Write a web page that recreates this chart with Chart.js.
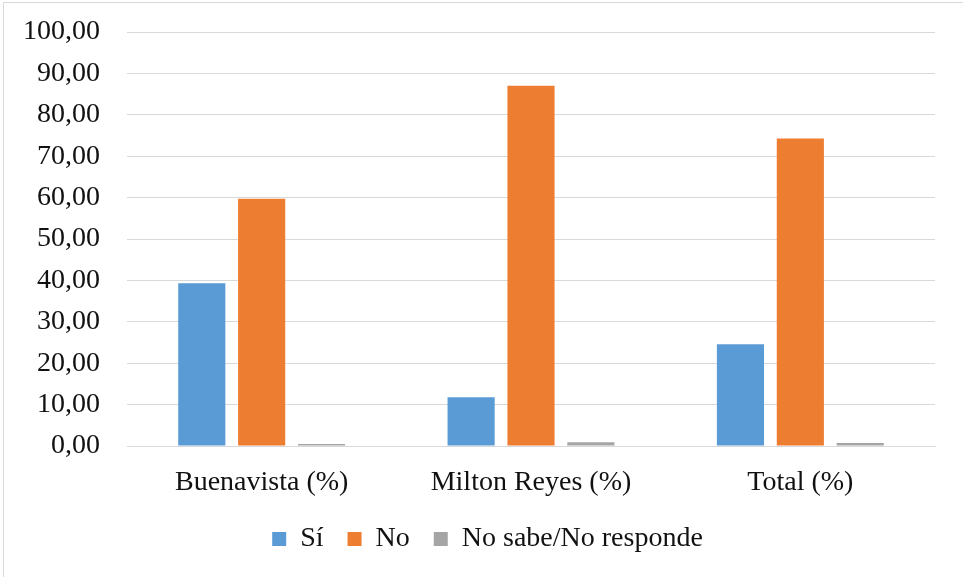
<!DOCTYPE html>
<html>
<head>
<meta charset="utf-8">
<script src="https://cdn.jsdelivr.net/npm/chart.js@4/dist/chart.umd.min.js"></script>
<style>
  html, body { margin: 0; padding: 0; background: #fff; overflow: hidden; }
  #frame { position: absolute; left: 3px; top: 2px; width: 1200px; height: 800px; border: 1px solid #d9d9d9; box-sizing: border-box; }
  #wrap { position: absolute; left: 0; top: 0; width: 963px; height: 577px; }
</style>
</head>
<body>
<div id="frame"></div>
<div id="wrap"><canvas id="c" width="963" height="577"></canvas></div>
<script>
// Survey answers by neighbourhood, in percent
const categories = ['Buenavista (%)', 'Milton Reyes (%)', 'Total (%)'];
const siValues = [39.3, 11.8, 24.6];
const noValues = [59.7, 87.0, 74.3];
const nsnrValues = [0.5, 0.9, 0.7];
const seriesNames = ['Sí', 'No', 'No sabe/No responde'];
const seriesColors = ['#5b9bd5', '#ed7d31', '#a5a5a5'];

const fontFamily = '"Liberation Serif", "Times New Roman", serif';
const fmt = v => v.toFixed(2).replace('.', ',');

// Centre the legend under the whole framed figure rather than the canvas box
const legendShift = {
  id: 'legendShift',
  afterLayout(chart) {
    if (chart.legend) {
      chart.legend.left += 20;
      chart.legend.right += 20;
    }
  }
};

new Chart(document.getElementById('c'), {
  type: 'bar',
  data: {
    labels: categories,
    datasets: [siValues, noValues, nsnrValues].map((vals, i) => ({
      label: seriesNames[i],
      data: vals,
      backgroundColor: seriesColors[i],
      borderWidth: 0,
      categoryPercentage: 0.667,
      barPercentage: 0.787
    }))
  },
  plugins: [legendShift],
  options: {
    responsive: false,
    animation: false,
    devicePixelRatio: 1,
    layout: { padding: { left: 0, right: 28, top: 32, bottom: 14 } },
    plugins: {
      tooltip: { enabled: false },
      legend: {
        position: 'bottom',
        labels: {
          font: { family: fontFamily, size: 28 },
          color: '#111',
          boxWidth: 14,
          boxHeight: 14,
          padding: 24
        }
      }
    },
    scales: {
      x: {
        afterFit: s => { s.height = 55; },
        grid: { display: false, drawTicks: false },
        border: { display: true, color: '#d9d9d9', width: 1 },
        ticks: {
          font: { family: fontFamily, size: 28 },
          color: '#111',
          padding: 20
        }
      },
      y: {
        min: 0,
        max: 100,
        afterFit: s => { s.width = 127; s.paddingTop = 0; s.paddingBottom = 0; },
        grid: { color: '#d9d9d9', lineWidth: 1, drawTicks: false },
        border: { display: false },
        ticks: {
          stepSize: 10,
          padding: 27,
          font: { family: fontFamily, size: 28 },
          color: '#111',
          callback: v => fmt(v)
        }
      }
    }
  }
});
</script>
</body>
</html>
